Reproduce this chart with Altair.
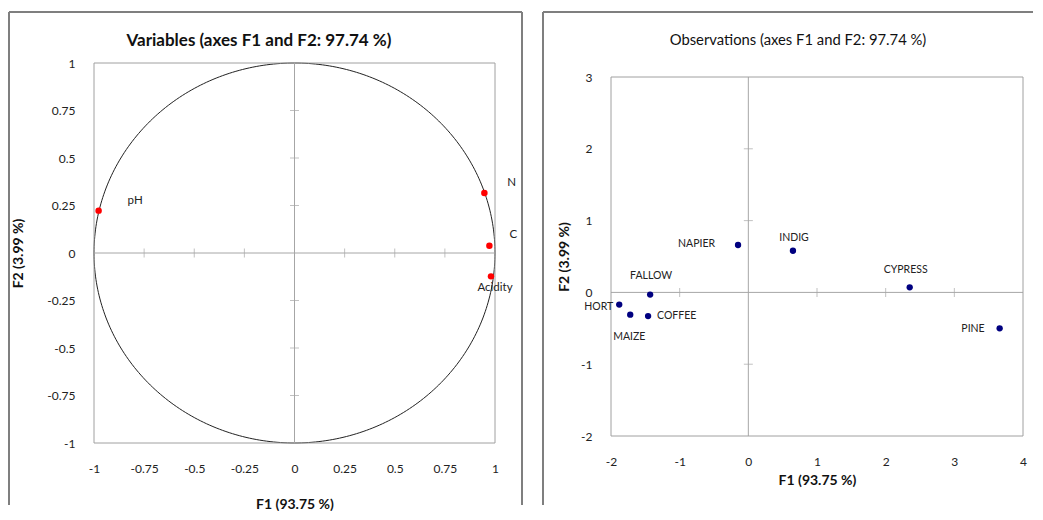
import numpy as np
import pandas as pd
import altair as alt

# ---------------- data ----------------
var_names = ["pH", "N", "C", "Acidity"]
var_f1 = [-0.977, 0.947, 0.972, 0.980]
var_f2 = [0.223, 0.316, 0.038, -0.123]

obs_names = ["NAPIER", "INDIG", "CYPRESS", "PINE", "FALLOW", "HORT", "MAIZE", "COFFEE"]
obs_f1 = [-0.15, 0.65, 2.35, 3.66, -1.43, -1.88, -1.72, -1.46]
obs_f2 = [0.66, 0.58, 0.07, -0.50, -0.03, -0.17, -0.31, -0.33]

left_ticks = [-1, -0.75, -0.5, -0.25, 0, 0.25, 0.5, 0.75, 1]
right_xticks = [-2, -1, 0, 1, 2, 3, 4]
right_yticks = [-2, -1, 0, 1, 2, 3]

# label placement (style): align, dx, dy
var_label_style = {"pH": ("left", 29, -10), "N": ("left", 23, -10),
                   "C": ("left", 20, -11), "Acidity": ("center", 4, 12)}
obs_label_style = {"NAPIER": ("right", -23, -1), "INDIG": ("center", 1, -13),
                   "CYPRESS": ("center", -4, -17), "PINE": ("right", -15, 1),
                   "FALLOW": ("center", 1, -19), "HORT": ("right", -6, 2),
                   "MAIZE": ("center", -1, 22), "COFFEE": ("left", 9, 0)}

FONT = "Lato"
BORDER = "#7f7f7f"
AXISLINE = "#a6a6a6"
PLOTFRAME = "#a0a0a0"

var_df = pd.DataFrame({"name": var_names, "F1": var_f1, "F2": var_f2})
obs_df = pd.DataFrame({"name": obs_names, "F1": obs_f1, "F2": obs_f2})
one = pd.DataFrame({"k": [0]})

LABEL_EXPR = "'' + datum.value"


def frame_rules(left, top, right, bottom, draw_right=True):
    base = alt.Chart(one).mark_rule(color=BORDER, strokeWidth=2)
    layers = [
        base.encode(x=alt.value(left), y=alt.value(top), y2=alt.value(bottom)),
        base.encode(x=alt.value(left), x2=alt.value(right), y=alt.value(top)),
    ]
    if draw_right:
        layers.append(base.encode(x=alt.value(right), y=alt.value(top), y2=alt.value(bottom)))
    return layers


def guides(xs, ys, xdom, ydom, xticks, yticks, x_lab_pad, x_title_pad, y_lab_pad, y_title_pad):
    xaxis = alt.Axis(values=xticks, title="F1 (93.75 %)", labelExpr=LABEL_EXPR,
                     labelPadding=x_lab_pad, titlePadding=x_title_pad)
    yaxis = alt.Axis(values=yticks, title="F2 (3.99 %)", labelExpr=LABEL_EXPR,
                     labelPadding=y_lab_pad, titlePadding=y_title_pad)
    layers = []
    layers.append(alt.Chart(one).mark_rule(color=AXISLINE, strokeWidth=1)
                  .encode(x=alt.X(datum=0, scale=xs, axis=xaxis),
                          y=alt.Y(datum=ydom[0], scale=ys, axis=yaxis), y2=alt.Y2(datum=ydom[1])))
    layers.append(alt.Chart(one).mark_rule(color=AXISLINE, strokeWidth=1)
                  .encode(y=alt.Y(datum=0, scale=ys, axis=yaxis),
                          x=alt.X(datum=xdom[0], scale=xs, axis=xaxis), x2=alt.X2(datum=xdom[1])))
    xt = pd.DataFrame({"v": [v for v in xticks if v not in (0, xdom[0], xdom[1])]})
    yt = pd.DataFrame({"v": [v for v in yticks if v not in (0, ydom[0], ydom[1])]})
    layers.append(alt.Chart(xt).mark_tick(orient="vertical", size=9, thickness=1, color=AXISLINE)
                  .encode(x=alt.X("v:Q", scale=xs, axis=xaxis), y=alt.Y(datum=0, scale=ys, axis=yaxis)))
    layers.append(alt.Chart(yt).mark_tick(orient="horizontal", size=9, thickness=1, color=AXISLINE)
                  .encode(y=alt.Y("v:Q", scale=ys, axis=yaxis), x=alt.X(datum=0, scale=xs, axis=xaxis)))
    # plot frame
    layers.append(alt.Chart(one).mark_rect(fillOpacity=0, stroke=PLOTFRAME, strokeWidth=1)
                  .encode(x=alt.X(datum=xdom[0], scale=xs, axis=xaxis), x2=alt.X2(datum=xdom[1]),
                          y=alt.Y(datum=ydom[0], scale=ys, axis=yaxis), y2=alt.Y2(datum=ydom[1])))
    return layers, xaxis, yaxis


# ---------------- left panel ----------------
L_W, L_H = 401, 380
xs = alt.Scale(domain=[-1, 1], nice=False, zero=False)
ys = alt.Scale(domain=[-1, 1], nice=False, zero=False)
layers, xaxis, yaxis = guides(xs, ys, [-1, 1], [-1, 1], left_ticks, left_ticks, 20, 23, 19, 21)
theta = np.linspace(0, 2 * np.pi, 361)
circle_df = pd.DataFrame({"cx": np.cos(theta), "cy": np.sin(theta), "i": np.arange(361)})
layers.insert(0, alt.Chart(circle_df).mark_line(color="#222222", strokeWidth=1).encode(
    x=alt.X("cx:Q", scale=xs, axis=xaxis), y=alt.Y("cy:Q", scale=ys, axis=yaxis), order="i:Q"))
layers.append(alt.Chart(var_df).mark_circle(color="#ff0000", size=42, opacity=1).encode(
    x=alt.X("F1:Q", scale=xs, axis=xaxis), y=alt.Y("F2:Q", scale=ys, axis=yaxis)))
for n in var_names:
    a, dx, dy = var_label_style[n]
    layers.append(alt.Chart(var_df).transform_filter(alt.datum.name == n)
                  .mark_text(align=a, baseline="middle", dx=dx, dy=dy, fontSize=11.5, font=FONT, color="#222")
                  .encode(x=alt.X("F1:Q", scale=xs, axis=xaxis), y=alt.Y("F2:Q", scale=ys, axis=yaxis),
                          text="name:N"))
layers.append(alt.Chart(one).mark_text(text="Variables (axes F1 and F2: 97.74 %)", fontSize=17,
                                       fontWeight="bold", font=FONT, align="center", baseline="middle",
                                       color="#111")
              .encode(x=alt.value(165), y=alt.value(-22)))
layers += frame_rules(-85, -51, 428, 442)
left = alt.layer(*layers).properties(width=L_W, height=L_H, view=alt.ViewBackground(strokeOpacity=0))

# ---------------- right panel ----------------
# plot frame spans y 14..373 inside a 373px-high view so the frame sits lower than the left one
R_W, R_H = 412, 373
xs = alt.Scale(domain=[-2, 4], nice=False, zero=False)
ys = alt.Scale(domain=[-2, 3], nice=False, zero=False, range=[373, 14])
layers, xaxis, yaxis = guides(xs, ys, [-2, 4], [-2, 3], right_xticks, right_yticks, 20, 6, 19, 9)
layers.append(alt.Chart(obs_df).mark_circle(color="#000080", size=40, opacity=1).encode(
    x=alt.X("F1:Q", scale=xs, axis=xaxis), y=alt.Y("F2:Q", scale=ys, axis=yaxis)))
for n in obs_names:
    a, dx, dy = obs_label_style[n]
    layers.append(alt.Chart(obs_df).transform_filter(alt.datum.name == n)
                  .mark_text(align=a, baseline="middle", dx=dx, dy=dy, fontSize=10.5, font=FONT, color="#222")
                  .encode(x=alt.X("F1:Q", scale=xs, axis=xaxis), y=alt.Y("F2:Q", scale=ys, axis=yaxis),
                          text="name:N"))
layers.append(alt.Chart(one).mark_text(text="Observations (axes F1 and F2: 97.74 %)", fontSize=14.8,
                                       fontWeight="normal", font=FONT, align="center", baseline="middle",
                                       color="#111")
              .encode(x=alt.value(187), y=alt.value(-22)))
layers += frame_rules(-68, -51, 422, 442, draw_right=False)
right = alt.layer(*layers).properties(width=R_W, height=R_H, view=alt.ViewBackground(strokeOpacity=0))

chart = (
    alt.hconcat(left, right, spacing=19)
    .properties(padding={"left": 0, "top": 3, "right": 0, "bottom": 0})
    .configure(font=FONT)
    .configure_axis(domain=False, ticks=False, tickSize=0, grid=False, labelFlush=False,
                    labelOverlap=False, labelFontSize=12, labelColor="#222", labelFont=FONT,
                    titleFontSize=14, titleFontWeight="bold", titleColor="#111", titleFont=FONT)
)

chart.save("out.html", embed_options={"renderer": "svg", "actions": False})
